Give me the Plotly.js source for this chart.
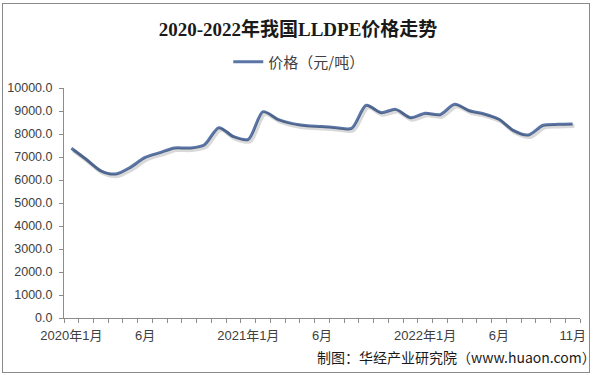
<!DOCTYPE html>
<html>
<head>
<meta charset="utf-8">
<script src="https://cdn.plot.ly/plotly-3.0.1.min.js"></script>
<style>
html,body{margin:0;padding:0;background:#fff;}
#wrap{position:relative;width:596px;height:375px;}
#chart{width:596px;height:375px;}
#frame{position:absolute;left:2px;top:3px;width:586px;height:368px;border:1px solid #8a8a8a;pointer-events:none;}
</style>
</head>
<body>
<div id="wrap"><div id="chart"></div><div id="frame"></div></div>
<script>
const months = [
  "2020年1月","2020年2月","2020年3月","2020年4月","2020年5月","2020年6月",
  "2020年7月","2020年8月","2020年9月","2020年10月","2020年11月","2020年12月",
  "2021年1月","2021年2月","2021年3月","2021年4月","2021年5月","2021年6月",
  "2021年7月","2021年8月","2021年9月","2021年10月","2021年11月","2021年12月",
  "2022年1月","2022年2月","2022年3月","2022年4月","2022年5月","2022年6月",
  "2022年7月","2022年8月","2022年9月","2022年10月","2022年11月"
];
const tickLabels = [
  "2020年1月","","","","","6月","","","","","","",
  "2021年1月","","","","","6月","","","","","","",
  "2022年1月","","","","","6月","","","","","11月"
];
const prices = [
  7380, 6900, 6400, 6260, 6550, 6985, 7190, 7390, 7390, 7520, 8275, 7885,
  7770, 8970, 8640, 8450, 8360, 8330, 8275, 8245, 9250, 8930, 9070, 8710,
  8900, 8840, 9290, 9010, 8870, 8640, 8145, 7960, 8380, 8420, 8435
];
const seriesName = "价格（元/吨）";
const titleText = "2020-2022年我国LLDPE价格走势";
const sourceText = "制图：华经产业研究院（www.huaon.com）";

const axisColor = "#8c8c8c";
const textColor = "#404040";
const lineColor = "#5b76a6";

const shadow = {
  x: months, y: prices, type: "scatter", mode: "lines",
  line: {color: "rgba(0,0,0,0.15)", width: 4, shape: "spline", smoothing: 0.8},
  hoverinfo: "skip", showlegend: false, xaxis: "x2", yaxis: "y2"
};
const main = {
  x: months, y: prices, type: "scatter", mode: "lines", name: seriesName,
  line: {color: lineColor, width: 3, shape: "spline", smoothing: 0.8}
};

const layout = {
  width: 596, height: 375,
  margin: {l: 64, r: 16, t: 88, b: 57},
  paper_bgcolor: "#fff", plot_bgcolor: "#fff",
  font: {family: "Liberation Sans, Arial, Noto Sans CJK SC, sans-serif", size: 12, color: textColor},
  title: {
    text: "<b>" + titleText + "</b>",
    font: {family: "Liberation Serif, DejaVu Serif, Noto Sans CJK SC, serif", size: 19, color: "#1a1a1a"},
    x: 0.5, xanchor: "center", xref: "container",
    y: 1 - 29/375, yanchor: "middle", yref: "container"
  },
  showlegend: true,
  legend: {
    orientation: "h", x: 0.455, xanchor: "center", y: 1.113, yanchor: "middle",
    font: {size: 15, color: textColor, family: "Noto Sans CJK SC, sans-serif"},
    bgcolor: "rgba(0,0,0,0)", itemwidth: 30
  },
  xaxis: {
    type: "category", categoryorder: "array", categoryarray: months,
    tickmode: "array", tickvals: months, ticktext: tickLabels,
    tickson: "boundaries",
    ticks: "outside", ticklen: 4, tickcolor: axisColor, tickwidth: 1,
    ticklabelstandoff: 5,
    showline: true, linecolor: axisColor, linewidth: 1,
    showgrid: false, zeroline: false,
    tickangle: 0,
    tickfont: {size: 13, color: textColor, family: "Liberation Sans, Arial, Noto Sans CJK SC, sans-serif"},
    range: [-0.5, 34.5]
  },
  yaxis: {
    range: [0, 10000], dtick: 1000, tick0: 0, tickformat: ".1f",
    ticks: "outside", ticklen: 4, tickcolor: axisColor,
    ticklabelstandoff: 4,
    showline: true, linecolor: axisColor, linewidth: 1,
    showgrid: false, zeroline: false,
    tickfont: {size: 12.5, color: textColor}
  },
  xaxis2: {
    type: "category", categoryorder: "array", categoryarray: months,
    overlaying: "x", visible: false, range: [-0.5 - 0.12, 34.5 - 0.12]
  },
  yaxis2: {
    overlaying: "y", visible: false, range: [0 + 90, 10000 + 90]
  },
  annotations: [
    {
      text: sourceText, xref: "paper", yref: "paper",
      x: 1.035, xanchor: "right", y: -0.17, yanchor: "middle",
      showarrow: false,
      font: {size: 14, color: "#1a1a1a", family: "Noto Sans CJK SC, sans-serif"}
    }
  ]
};

Plotly.newPlot("chart", [shadow, main], layout, {displayModeBar: false, staticPlot: true});
</script>
</body>
</html>
